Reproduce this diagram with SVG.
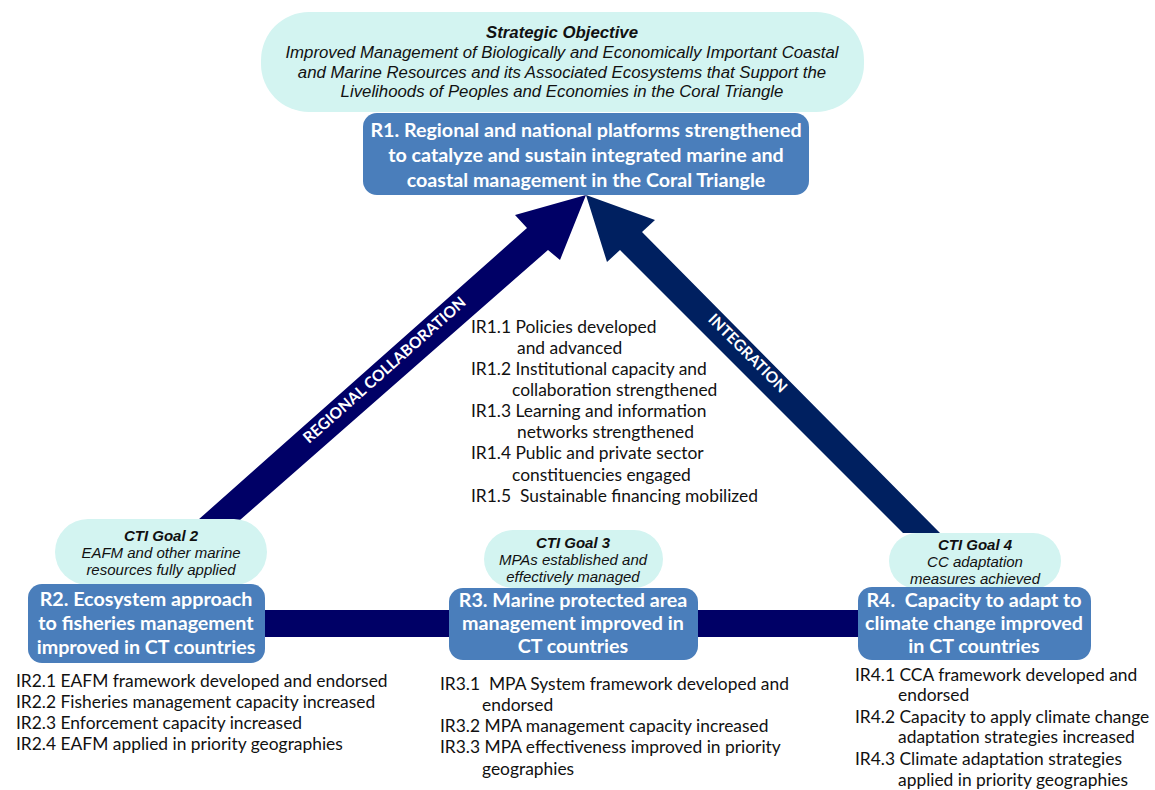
<svg xmlns="http://www.w3.org/2000/svg" width="1155" height="790" viewBox="0 0 1155 790">
<style>
.goal{fill:#d3f4f1}
.res{fill:#4a7ebb}
.ar{font-family:"Liberation Sans",Arial,sans-serif;font-style:italic;fill:#111;text-anchor:middle}
.b{font-weight:bold}
.rt{font-family:Lato,"Open Sans",sans-serif;font-weight:bold;fill:#fff;font-size:19.7px;text-anchor:middle}
.ir{font-family:Lato,"Open Sans",sans-serif;fill:#111;font-size:17.4px}
.lab{font-family:Lato,"Open Sans",sans-serif;font-weight:bold;fill:#fff;font-size:15.5px;text-anchor:middle}
.pre{white-space:pre}
</style>
<rect width="1155" height="790" fill="#fff"/>
<g id="connectors">
<polygon points="198,520 240,520 548,250 560,260 586,195 515,215 527,228" fill="#000066"/>
<polygon points="586,195 655,220 642,232 940,533 903,533 620,250 607,262" fill="#002060"/>
<rect x="260" y="610" width="604" height="27" fill="#000066"/>
<text class="lab" transform="translate(388,374) rotate(-41.6)">REGIONAL COLLABORATION</text>
<text class="lab" transform="translate(744,357) rotate(45)">INTEGRATION</text>
</g>
<g id="strategic-objective">
<rect class="goal" x="261" y="12" width="603" height="100" rx="48"/>
<text class="ar b" x="562" y="38" font-size="16.8">Strategic Objective</text>
<text class="ar" x="562" y="58" font-size="16.8">Improved Management of Biologically and Economically Important Coastal</text>
<text class="ar" x="562" y="78" font-size="16.8">and Marine Resources and its Associated Ecosystems that Support the</text>
<text class="ar" x="562" y="97" font-size="16.8">Livelihoods of Peoples and Economies in the Coral Triangle</text>
</g>
<g id="r1">
<rect class="res" x="363" y="113" width="446" height="82" rx="14"/>
<text class="rt" x="586" y="137">R1. Regional and national platforms strengthened</text>
<text class="rt" x="586" y="162">to catalyze and sustain integrated marine and</text>
<text class="rt" x="586" y="187">coastal management in the Coral Triangle</text>
</g>
<g id="ir1">
<text class="ir" x="471" y="333">IR1.1 Policies developed</text>
<text class="ir" x="517" y="354">and advanced</text>
<text class="ir" x="471" y="375">IR1.2 Institutional capacity and</text>
<text class="ir" x="512" y="396">collaboration strengthened</text>
<text class="ir" x="471" y="417">IR1.3 Learning and information</text>
<text class="ir" x="517" y="438">networks strengthened</text>
<text class="ir" x="471" y="459">IR1.4 Public and private sector</text>
<text class="ir" x="512" y="481">constituencies engaged</text>
<text class="ir pre" x="471" y="502" xml:space="preserve">IR1.5  Sustainable financing mobilized</text>
</g>
<g id="goal2">
<rect class="goal" x="55" y="519" width="212" height="66" rx="33"/>
<text class="ar b" x="161" y="541" font-size="15">CTI Goal 2</text>
<text class="ar" x="161" y="558" font-size="15">EAFM and other marine</text>
<text class="ar" x="161" y="575" font-size="15">resources fully applied</text>
</g>
<g id="r2">
<rect class="res" x="28" y="584" width="237" height="79" rx="14"/>
<text class="rt" x="146" y="606">R2. Ecosystem approach</text>
<text class="rt" x="146" y="630">to fisheries management</text>
<text class="rt" x="146" y="654">improved in CT countries</text>
</g>
<g id="ir2">
<text class="ir" x="16" y="687">IR2.1 EAFM framework developed and endorsed</text>
<text class="ir" x="16" y="708">IR2.2 Fisheries management capacity increased</text>
<text class="ir" x="16" y="729">IR2.3 Enforcement capacity increased</text>
<text class="ir" x="16" y="750">IR2.4 EAFM applied in priority geographies</text>
</g>
<g id="goal3">
<rect class="goal" x="484" y="530" width="179" height="58" rx="29"/>
<text class="ar b" x="573" y="548" font-size="15">CTI Goal 3</text>
<text class="ar" x="573" y="565" font-size="15">MPAs established and</text>
<text class="ar" x="573" y="582" font-size="15">effectively managed</text>
</g>
<g id="r3">
<rect class="res" x="449" y="588" width="249" height="72" rx="14"/>
<text class="rt" x="573" y="607">R3. Marine protected area</text>
<text class="rt" x="573" y="630">management improved in</text>
<text class="rt" x="573" y="653">CT countries</text>
</g>
<g id="ir3">
<text class="ir pre" x="440" y="690" xml:space="preserve">IR3.1  MPA System framework developed and</text>
<text class="ir" x="482" y="711">endorsed</text>
<text class="ir" x="440" y="732">IR3.2 MPA management capacity increased</text>
<text class="ir" x="440" y="753">IR3.3 MPA effectiveness improved in priority</text>
<text class="ir" x="482" y="775">geographies</text>
</g>
<g id="goal4">
<rect class="goal" x="889" y="533" width="172" height="56" rx="28"/>
<text class="ar b" x="975" y="550" font-size="15">CTI Goal 4</text>
<text class="ar" x="975" y="567" font-size="15">CC adaptation</text>
<text class="ar" x="975" y="584" font-size="15">measures achieved</text>
</g>
<g id="r4">
<rect class="res" x="858" y="587" width="233" height="73" rx="14"/>
<text class="rt pre" x="974" y="607" xml:space="preserve">R4.  Capacity to adapt to</text>
<text class="rt" x="974" y="630">climate change improved</text>
<text class="rt" x="974" y="653">in CT countries</text>
</g>
<g id="ir4">
<text class="ir" x="855" y="681">IR4.1 CCA framework developed and</text>
<text class="ir" x="898" y="701">endorsed</text>
<text class="ir" x="855" y="723">IR4.2 Capacity to apply climate change</text>
<text class="ir" x="898" y="743">adaptation strategies increased</text>
<text class="ir" x="855" y="765">IR4.3 Climate adaptation strategies</text>
<text class="ir" x="898" y="786">applied in priority geographies</text>
</g>
</svg>
